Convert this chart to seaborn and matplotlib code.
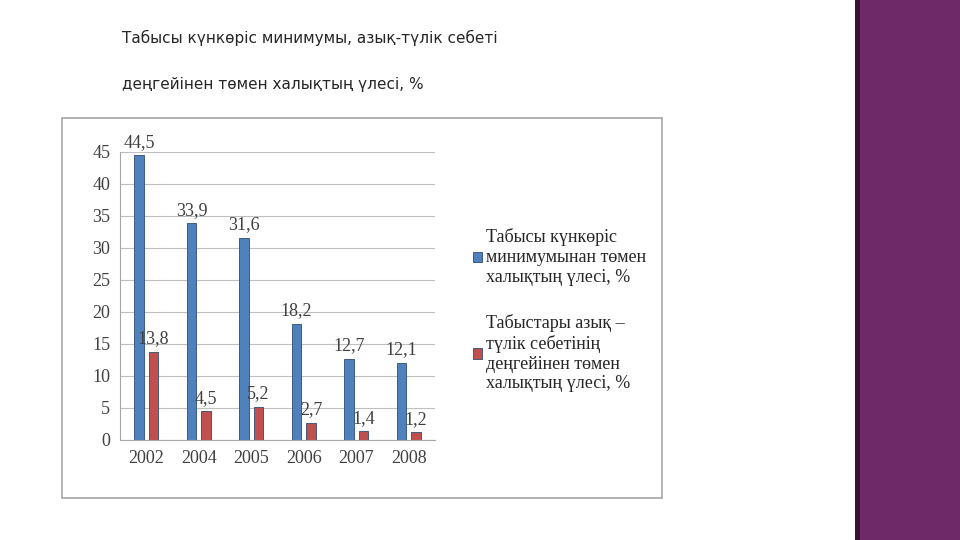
import numpy as np
import pandas as pd
import seaborn as sns
import matplotlib.pyplot as plt
from matplotlib.patches import Rectangle

years = ["2002", "2004", "2005", "2006", "2007", "2008"]
subsistence = [44.5, 33.9, 31.6, 18.2, 12.7, 12.1]
food_basket = [13.8, 4.5, 5.2, 2.7, 1.4, 1.2]
label_sub = "Табысы күнкөріс\nминимумынан төмен\nхалықтың үлесі, %"
label_food = "Табыстары азық –\nтүлік себетінің\nдеңгейінен төмен\nхалықтың үлесі, %"

df = pd.DataFrame({"year": years * 2,
                   "value": subsistence + food_basket,
                   "series": [label_sub] * 6 + [label_food] * 6})

sns.set_style("white")
plt.rcParams['font.family'] = ['Liberation Serif', 'DejaVu Serif']

fig = plt.figure(figsize=(9.6, 5.4), dpi=100)
fig.patch.set_facecolor("white")

# decorative purple band on the right
fig.patches.append(Rectangle((860 / 960, 0), 100 / 960, 1, transform=fig.transFigure,
                             facecolor="#6e2a68", edgecolor="none", zorder=-2))
fig.patches.append(Rectangle((855 / 960, 0), 5 / 960, 1, transform=fig.transFigure,
                             facecolor="#3a1236", edgecolor="none", zorder=-2))
# chart frame
fig.patches.append(Rectangle((62 / 960, 1 - 498 / 540), 600 / 960, 380 / 540,
                             transform=fig.transFigure, facecolor="white",
                             edgecolor="#a6a6a6", lw=1.2, zorder=-2))

fig.text(122 / 960, 1 - 38 / 540, "Табысы күнкөріс минимумы, азық-түлік себеті",
         fontsize=11, family=["DejaVu Sans"], va="center")
fig.text(122 / 960, 1 - 84 / 540, "деңгейінен төмен халықтың үлесі, %",
         fontsize=11, family=["DejaVu Sans"], va="center")

ax = fig.add_axes([120 / 960, 1 - 440 / 540, 315 / 960, 288 / 540])
ax.patch.set_alpha(0)
sns.barplot(data=df, x="year", y="value", hue="series", ax=ax,
            palette=["#4f81bd", "#c0504d"], width=0.55, saturation=1,
            edgecolor="#2c4d75", linewidth=0.6, gap=0.35)
ax.set_ylim(0, 45)
ax.set_yticks(range(0, 46, 5))
ax.yaxis.grid(True, color="#bfbfbf", lw=0.8)
ax.set_axisbelow(True)
ax.set_xlabel("")
ax.set_ylabel("")
ax.tick_params(labelsize=13, colors="#404040")
for s in ["top", "right"]:
    ax.spines[s].set_visible(False)
for s in ["left", "bottom"]:
    ax.spines[s].set_color("#a6a6a6")

for cont in ax.containers:
    ax.bar_label(cont, labels=[f"{v:.1f}".replace(".", ",") for v in cont.datavalues],
                 padding=3, fontsize=13, color="#404040")

ax.legend(loc="center left", bbox_to_anchor=(1.07, 0.45), frameon=False,
          fontsize=13, handlelength=0.5, handleheight=0.5, handletextpad=0.2,
          labelspacing=1.6)

fig.savefig("out.png", dpi=100)
